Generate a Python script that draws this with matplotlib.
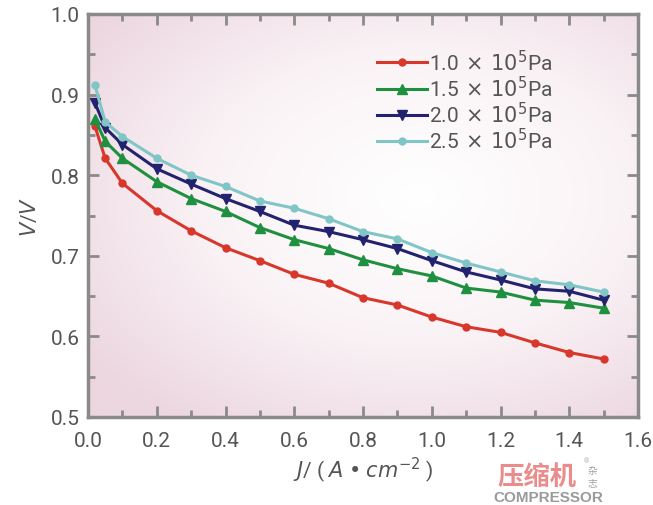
import numpy as np
import matplotlib
matplotlib.use("Agg")
import matplotlib.pyplot as plt
from matplotlib.colors import LinearSegmentedColormap
from matplotlib.ticker import MultipleLocator

# current density J (A/cm^2)
current = [0.02, 0.05, 0.1, 0.2, 0.3, 0.4, 0.5, 0.6, 0.7, 0.8, 0.9, 1.0, 1.1, 1.2, 1.3, 1.4, 1.5]

# cell voltage (V) at each pressure
v_10 = [0.861, 0.821, 0.790, 0.756, 0.731, 0.710, 0.694, 0.677, 0.666, 0.648, 0.639, 0.624, 0.612, 0.605, 0.592, 0.580, 0.572]
v_15 = [0.870, 0.842, 0.821, 0.792, 0.771, 0.755, 0.735, 0.720, 0.709, 0.695, 0.684, 0.675, 0.660, 0.655, 0.645, 0.642, 0.635]
v_20 = [0.890, 0.859, 0.838, 0.808, 0.789, 0.771, 0.755, 0.738, 0.730, 0.720, 0.709, 0.694, 0.680, 0.670, 0.659, 0.656, 0.645]
v_25 = [0.912, 0.866, 0.848, 0.821, 0.800, 0.786, 0.768, 0.759, 0.746, 0.730, 0.721, 0.704, 0.691, 0.680, 0.669, 0.664, 0.655]

labels = ["1.0", "1.5", "2.0", "2.5"]

plt.rcParams['font.family'] = ['Roboto', 'DejaVu Sans']
txt = '#555555'
spine_c = '#8a8a8a'
cjk = ['Noto Sans CJK SC', 'DejaVu Sans']

fig = plt.figure(figsize=(6.53, 5.06), dpi=100)
ax = fig.add_axes([88/653, 88/506, 550/653, 403/506])

# pink radial background
gx, gy = np.meshgrid(np.linspace(0, 1, 300), np.linspace(0, 1, 300))
r = np.sqrt(((gx - 0.6) / 0.75) ** 2 + ((gy - 0.55) / 0.7) ** 2)
cmap = LinearSegmentedColormap.from_list('bg', ['#ffffff', '#faf3f6', '#ecd6e0'])
ax.imshow(r, cmap=cmap, extent=[0, 1.6, 0.5, 1.0], origin='lower',
          aspect='auto', zorder=0, vmin=0, vmax=1.0)

ax.plot(current, v_10, color='#d8372b', marker='o', ms=5, lw=2.2, label=labels[0] + r"$\,\times\,10^5$Pa", zorder=3)
ax.plot(current, v_15, color='#1e9040', marker='^', ms=7, lw=2.2, label=labels[1] + r"$\,\times\,10^5$Pa", zorder=3)
ax.plot(current, v_20, color='#22226e', marker='v', ms=7, lw=2.2, label=labels[2] + r"$\,\times\,10^5$Pa", zorder=3)
ax.plot(current, v_25, color='#80c6c6', marker='o', ms=5, lw=2.2, label=labels[3] + r"$\,\times\,10^5$Pa", zorder=3)

ax.set_xlim(0, 1.6)
ax.set_ylim(0.5, 1.0)
ax.xaxis.set_major_locator(MultipleLocator(0.2))
ax.xaxis.set_minor_locator(MultipleLocator(0.1))
ax.yaxis.set_major_locator(MultipleLocator(0.1))
ax.yaxis.set_minor_locator(MultipleLocator(0.05))
ax.xaxis.set_major_formatter(plt.FormatStrFormatter('%.1f'))
ax.yaxis.set_major_formatter(plt.FormatStrFormatter('%.1f'))

for s in ax.spines.values():
    s.set_color(spine_c)
    s.set_linewidth(2.5)
ax.tick_params(which='both', direction='in', top=True, right=True, color=spine_c, width=2)
ax.tick_params(which='major', length=8, labelsize=15, labelcolor=txt)
ax.tick_params(axis='x', which='major', pad=10)
ax.tick_params(axis='y', which='major', pad=6)
ax.tick_params(which='minor', length=5)

ax.set_xlabel(r"$J$/ ( $A$ • $cm^{-2}$ )", fontsize=15, color=txt, labelpad=3)
ax.set_ylabel(r"$V$/$V$", fontsize=15, color=txt, labelpad=8)

leg = ax.legend(loc='upper left', bbox_to_anchor=(0.51, 0.935), frameon=False,
                fontsize=15, handlelength=2.4, labelspacing=0.05,
                handletextpad=0.1, borderaxespad=0)
for t in leg.get_texts():
    t.set_color(txt)

# watermark
fig.text(537/653, 1 - 477/506, "压缩机", family=cjk,
         fontsize=19, fontweight='bold', color='#ea8c8c', ha='center', va='center')
fig.text(586/653, 1 - 462/506, "®", fontsize=5, color='#b0b0b0', ha='center', va='center')
fig.text(592/653, 1 - 471/506, "杂", family=cjk,
         fontsize=7, color='#a0a0a0', ha='center', va='center')
fig.text(592/653, 1 - 484/506, "志", family=cjk,
         fontsize=7, color='#a0a0a0', ha='center', va='center')
fig.text(548/653, 1 - 498/506, "COMPRESSOR", family=['Liberation Sans', 'DejaVu Sans'],
         fontsize=11, fontweight='bold', color='#9a9a9a', ha='center', va='center')

fig.savefig("out.png", dpi=100)
